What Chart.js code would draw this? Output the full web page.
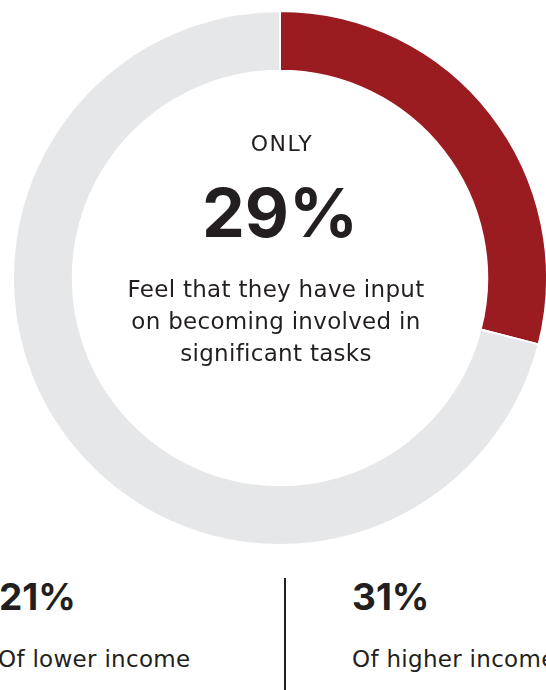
<!DOCTYPE html>
<html>
<head>
<meta charset="utf-8">
<script src="https://cdn.jsdelivr.net/npm/chart.js@4"></script>
<style>
  html, body { margin: 0; padding: 0; background: #fff; overflow: hidden; width: 546px; height: 690px; }
  body { position: relative; font-family: "DejaVu Sans", sans-serif; color: #231f20; }
  #wrap { position: absolute; left: 12px; top: 10px; width: 536px; height: 536px; }
  .center { position: absolute; left: 80px; width: 400px; text-align: center; }
  #only { top: 131px; font-size: 22px; letter-spacing: 1.5px; left: 82px; }
  #big { top: 172px; font-size: 68px; font-weight: 700; line-height: 80px; font-family: Inter, sans-serif; }
  #desc { top: 273px; left: 76px; width: 400px; font-size: 23px; line-height: 32px; letter-spacing: 0.3px; }
  .stat { position: absolute; font-size: 37px; font-weight: 700; top: 574px; font-family: Inter, sans-serif; }
  .lab { position: absolute; font-size: 23px; top: 646px; white-space: nowrap; letter-spacing: 0.3px; }
  #divider { position: absolute; left: 284px; top: 578px; width: 2px; height: 112px; background: #231f20; }
</style>
</head>
<body>
<div id="wrap"><canvas id="chart"></canvas></div>

<div id="only" class="center">ONLY</div>
<div id="big" class="center">29%</div>
<div id="desc" class="center">Feel that they have input<br>on becoming involved in<br>significant tasks</div>

<div class="stat" style="left:-1px">21%</div>
<div class="lab" style="left:-2px">Of lower income</div>
<div id="divider"></div>
<div class="stat" style="left:352px">31%</div>
<div class="lab" style="left:352px">Of higher income</div>

<script>
// share of respondents
const labels = ['Have input', 'Other'];
const values = [29, 71];
const colors = ['#9a1b20', '#e6e7e8'];

const ctx = document.getElementById('chart');

var doughnutChart = new Chart(ctx, {
  type: 'doughnut',
  data: {
    labels: labels,
    datasets: [{
      data: values,
      backgroundColor: colors,
      borderColor: '#ffffff',
      borderWidth: 2
    }]
  },
  options: {
    responsive: true,
    maintainAspectRatio: false,
    animation: false,
    cutout: '77.6%',
    layout: { padding: 0 },
    plugins: {
      legend: { display: false },
      tooltip: { enabled: false }
    }
  }
});
</script>
</body>
</html>
